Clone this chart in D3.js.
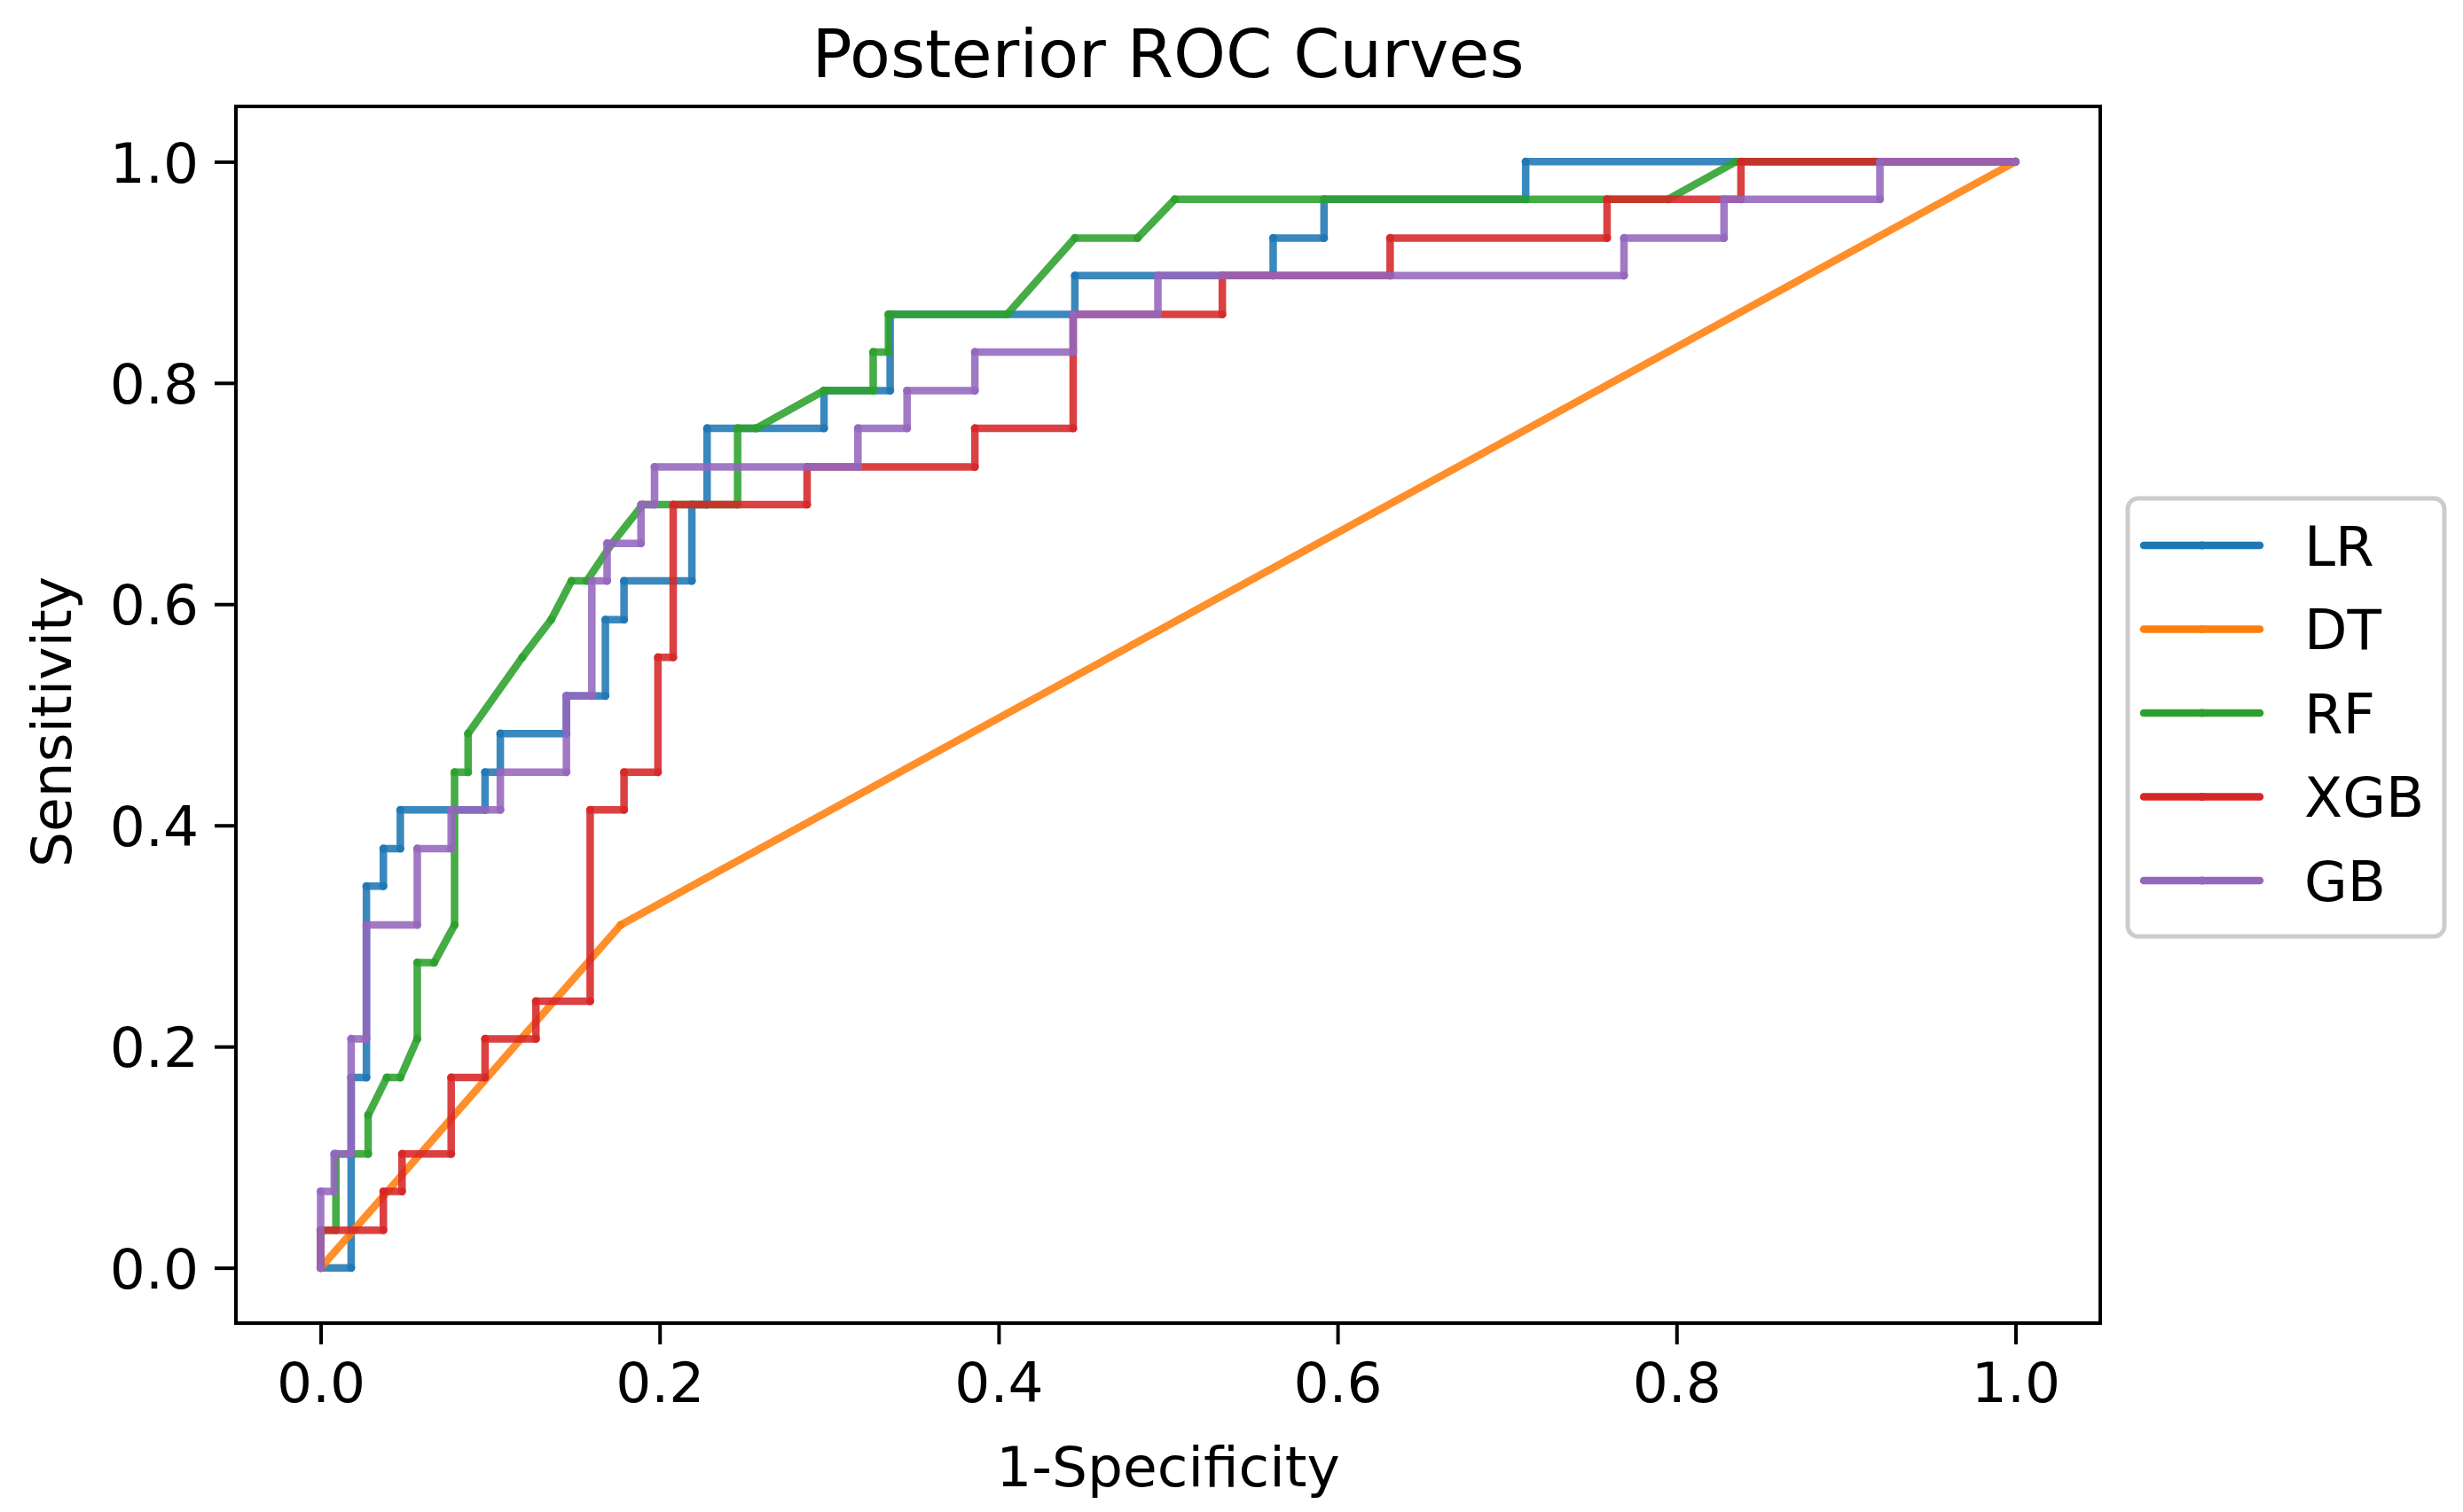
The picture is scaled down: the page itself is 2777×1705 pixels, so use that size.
<!DOCTYPE html>
<html>
<head>
<meta charset="utf-8">
<script src="https://cdn.jsdelivr.net/npm/d3@7"></script>
<style>
  html, body { margin: 0; padding: 0; background: #ffffff; }
  svg { display: block; font-family: "DejaVu Sans", sans-serif; }
</style>
</head>
<body>
<svg id="chart" width="2777" height="1705"></svg>
<script>
// ---- data ----
const models = ["LR", "DT", "RF", "XGB", "GB"];
const colors = ["#1f77b4", "#ff7f0e", "#2ca02c", "#d62728", "#9467bd"];

const lrFpr = [0,0.018,0.018,0.027,0.027,0.037,0.037,0.047,0.047,0.097,0.097,0.106,0.106,0.145,0.145,0.168,0.168,0.179,0.179,0.219,0.219,0.228,0.228,0.297,0.297,0.336,0.336,0.445,0.445,0.562,0.562,0.592,0.592,0.711,0.711,1.0];
const lrTpr = [0,0,0.172,0.172,0.345,0.345,0.379,0.379,0.414,0.414,0.448,0.448,0.483,0.483,0.517,0.517,0.586,0.586,0.621,0.621,0.690,0.690,0.759,0.759,0.793,0.793,0.862,0.862,0.897,0.897,0.931,0.931,0.966,0.966,1,1];

const dtFpr = [0, 0.177, 1];
const dtTpr = [0, 0.310, 1];

const rfFpr = [0,0,0.009,0.009,0.028,0.028,0.039,0.047,0.057,0.057,0.067,0.079,0.079,0.087,0.087,0.119,0.136,0.148,0.157,0.172,0.19,0.246,0.246,0.257,0.297,0.326,0.326,0.335,0.335,0.405,0.445,0.482,0.504,0.795,0.835,1.0];
const rfTpr = [0,0.034,0.034,0.103,0.103,0.138,0.172,0.172,0.207,0.276,0.276,0.310,0.448,0.448,0.483,0.552,0.586,0.621,0.621,0.655,0.690,0.690,0.759,0.759,0.793,0.793,0.828,0.828,0.862,0.862,0.931,0.931,0.966,0.966,1,1];

const xgbFpr = [0,0,0.037,0.037,0.048,0.048,0.077,0.077,0.097,0.097,0.127,0.127,0.159,0.159,0.179,0.179,0.199,0.199,0.208,0.208,0.287,0.287,0.386,0.386,0.444,0.444,0.532,0.532,0.631,0.631,0.759,0.759,0.838,0.838,1];
const xgbTpr = [0,0.034,0.034,0.069,0.069,0.103,0.103,0.172,0.172,0.207,0.207,0.241,0.241,0.414,0.414,0.448,0.448,0.552,0.552,0.690,0.690,0.724,0.724,0.759,0.759,0.862,0.862,0.897,0.897,0.931,0.931,0.966,0.966,1,1];

const gbFpr = [0,0,0.008,0.008,0.018,0.018,0.027,0.027,0.057,0.057,0.077,0.077,0.106,0.106,0.145,0.145,0.16,0.16,0.169,0.169,0.189,0.189,0.197,0.197,0.317,0.317,0.346,0.346,0.386,0.386,0.444,0.444,0.494,0.494,0.769,0.769,0.828,0.828,0.92,0.92,1];
const gbTpr = [0,0.069,0.069,0.103,0.103,0.207,0.207,0.310,0.310,0.379,0.379,0.414,0.414,0.448,0.448,0.517,0.517,0.621,0.621,0.655,0.655,0.690,0.690,0.724,0.724,0.759,0.759,0.793,0.793,0.828,0.828,0.862,0.862,0.897,0.897,0.931,0.931,0.966,0.966,1,1];

const xTicks = [0.0, 0.2, 0.4, 0.6, 0.8, 1.0];
const yTicks = [0.0, 0.2, 0.4, 0.6, 0.8, 1.0];
const titleText = "Posterior ROC Curves";
const xLabel = "1-Specificity";
const yLabel = "Sensitivity";

// ---- layout ----
const svg = d3.select("#chart");
const L = 266, R = 2368, T = 120, B = 1492;
const FS = 63;

const x = d3.scaleLinear().domain([-0.05, 1.05]).range([L, R]);
const y = d3.scaleLinear().domain([-0.05, 1.05]).range([B, T]);

const series = [
  {name: models[0], color: colors[0], fpr: lrFpr, tpr: lrTpr},
  {name: models[1], color: colors[1], fpr: dtFpr, tpr: dtTpr},
  {name: models[2], color: colors[2], fpr: rfFpr, tpr: rfTpr},
  {name: models[3], color: colors[3], fpr: xgbFpr, tpr: xgbTpr},
  {name: models[4], color: colors[4], fpr: gbFpr, tpr: gbTpr}
];

const line = d3.line().x(d => x(d[0])).y(d => y(d[1]));

const plot = svg.append("g");
series.forEach(s => {
  const pts = s.fpr.map((v, i) => [v, s.tpr[i]]);
  plot.append("path")
    .attr("d", line(pts))
    .attr("fill", "none")
    .attr("stroke", s.color)
    .attr("stroke-width", 8.5)
    .attr("stroke-linejoin", "round")
    .attr("stroke-linecap", "round")
    .attr("opacity", 0.88);
  plot.selectAll(null).data(pts).enter().append("circle")
    .attr("cx", d => x(d[0])).attr("cy", d => y(d[1]))
    .attr("r", 4.6).attr("fill", s.color).attr("opacity", 0.9);
});

// axes
const xAxis = d3.axisBottom(x).tickValues(xTicks).tickFormat(d3.format(".1f")).tickSize(24).tickPadding(18);
const yAxis = d3.axisLeft(y).tickValues(yTicks).tickFormat(d3.format(".1f")).tickSize(24).tickPadding(18);

const gx = svg.append("g").attr("transform", `translate(0,${B})`).call(xAxis);
const gy = svg.append("g").attr("transform", `translate(${L},0)`).call(yAxis);
[gx, gy].forEach(g => {
  g.select(".domain").remove();
  g.selectAll(".tick line").attr("stroke", "#000").attr("stroke-width", 4);
  g.selectAll(".tick text").attr("fill", "#000").style("font-size", FS + "px")
    .style("font-family", "'DejaVu Sans', sans-serif");
});
gx.selectAll(".tick text").attr("dy", "0.75em");
gy.selectAll(".tick text").attr("dy", "0.36em");

// frame
svg.append("rect").attr("x", L).attr("y", T).attr("width", R - L).attr("height", B - T)
  .attr("fill", "none").attr("stroke", "#000").attr("stroke-width", 4);

// title & labels
svg.append("text").attr("x", (L + R) / 2).attr("y", 87).attr("text-anchor", "middle")
  .style("font-size", "75px").attr("fill", "#000").text(titleText);
svg.append("text").attr("x", (L + R) / 2).attr("y", 1676).attr("text-anchor", "middle")
  .style("font-size", FS + "px").attr("fill", "#000").text(xLabel);
svg.append("text").attr("transform", `translate(80,${(T + B) / 2 + 8}) rotate(-90)`)
  .attr("text-anchor", "middle").style("font-size", FS + "px").attr("fill", "#000").text(yLabel);

// legend
const lg = svg.append("g");
lg.append("rect").attr("x", 2399).attr("y", 562).attr("width", 357).attr("height", 494)
  .attr("rx", 12).attr("ry", 12)
  .attr("fill", "#ffffff").attr("fill-opacity", 0.8)
  .attr("stroke", "#cccccc").attr("stroke-width", 5);
series.forEach((s, i) => {
  const cy = 615 + i * 94.5;
  lg.append("line").attr("x1", 2417).attr("x2", 2548).attr("y1", cy).attr("y2", cy)
    .attr("stroke", s.color).attr("stroke-width", 8.5).attr("stroke-linecap", "round");
  lg.append("circle").attr("cx", 2483).attr("cy", cy).attr("r", 4.6).attr("fill", s.color);
  lg.append("text").attr("x", 2598).attr("y", cy).attr("dy", "0.36em")
    .style("font-size", FS + "px").attr("fill", "#000").text(s.name);
});
</script>
</body>
</html>
